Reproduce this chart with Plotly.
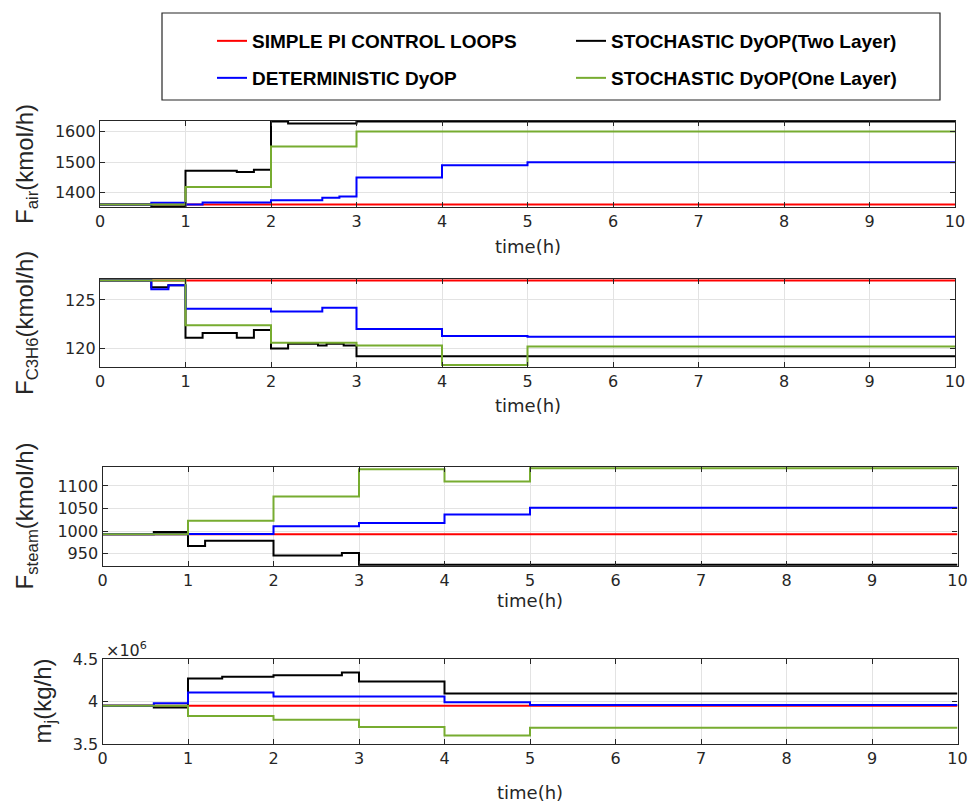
import plotly.graph_objects as go

W, H = 972, 803

series_names = ["SIMPLE PI CONTROL LOOPS", "STOCHASTIC DyOP(Two Layer)",
                "DETERMINISTIC DyOP", "STOCHASTIC DyOP(One Layer)"]
series_colors = ["#ff0000", "#000000", "#0000ff", "#77ac30"]
series_legend = ["legend", "legend", "legend2", "legend2"]

# ---- Panel 1: F_air (kmol/h)
air_pi_t = [0, 10]
air_pi_v = [1362, 1362]
air_two_t = [0, 0.6, 1, 1.6, 1.8, 2, 2.2, 3, 10]
air_two_v = [1362, 1356, 1472, 1468, 1475, 1632, 1626, 1632, 1632]
air_det_t = [0, 0.6, 1, 1.2, 2, 2.6, 2.8, 3, 4, 5, 10]
air_det_v = [1362, 1368, 1362, 1369, 1376, 1384, 1388, 1450, 1490, 1500, 1500]
air_one_t = [0, 1, 2, 3, 10]
air_one_v = [1362, 1419, 1551, 1600, 1600]

# ---- Panel 2: F_C3H6 (kmol/h)
c3_pi_t = [0, 10]
c3_pi_v = [127, 127]
c3_two_t = [0, 0.6, 0.8, 1, 1.2, 1.6, 1.8, 2, 2.2, 2.55, 2.65, 2.85, 3, 10]
c3_two_v = [127, 126.3, 126.5, 121.1, 121.6, 121.1, 121.9, 120.0, 120.5, 120.3, 120.5, 120.3, 119.2, 119.2]
c3_det_t = [0, 0.6, 0.8, 1, 2, 2.6, 3, 4, 5, 10]
c3_det_v = [127, 126.1, 126.5, 124.1, 123.8, 124.2, 122.0, 121.3, 121.2, 121.2]
c3_one_t = [0, 1, 2, 3, 4, 5, 10]
c3_one_v = [127, 122.4, 120.6, 120.3, 118.3, 120.2, 120.2]

# ---- Panel 3: F_steam (kmol/h)
st_pi_t = [0, 10]
st_pi_v = [993, 993]
st_two_t = [0, 0.6, 1, 1.2, 2, 2.8, 3, 10]
st_two_v = [993, 998, 967, 979, 946, 952, 926, 926]
st_det_t = [0, 1, 2, 3, 4, 5, 10]
st_det_v = [993, 994, 1011, 1018, 1037, 1052, 1052]
st_one_t = [0, 1, 2, 3, 4, 5, 10]
st_one_v = [993, 1023, 1077, 1137, 1110, 1139, 1139]

# ---- Panel 4: m_j (kg/h)
mj_pi_t = [0, 10]
mj_pi_v = [3.95e6, 3.95e6]
mj_two_t = [0, 0.6, 1, 1.4, 2, 2.8, 3, 4, 10]
mj_two_v = [3.95e6, 3.93e6, 4.27e6, 4.29e6, 4.31e6, 4.34e6, 4.235e6, 4.095e6, 4.095e6]
mj_det_t = [0, 0.6, 1, 2, 3, 4, 5, 10]
mj_det_v = [3.95e6, 3.98e6, 4.105e6, 4.06e6, 4.06e6, 3.99e6, 3.96e6, 3.96e6]
mj_one_t = [0, 1, 2, 3, 4, 5, 10]
mj_one_v = [3.95e6, 3.83e6, 3.785e6, 3.70e6, 3.60e6, 3.69e6, 3.69e6]

x_ticks = list(range(0, 11))
air_ticks = [1400, 1500, 1600]
c3_ticks = [120, 125]
st_ticks = [950, 1000, 1050, 1100]
mj_ticks = [3.5e6, 4.0e6, 4.5e6]
mj_tick_text = ["3.5", "4", "4.5"]

panels = [
    dict(data=[(air_pi_t, air_pi_v), (air_two_t, air_two_v), (air_det_t, air_det_v), (air_one_t, air_one_v)],
         yrange=[1354, 1634], ticks=air_ticks, ticktext=None,
         ypix=(121, 207), xpix=(100, 955),
         title="F<sub>air</sub>(kmol/h)", title_x=26, xlab_y=246),
    dict(data=[(c3_pi_t, c3_pi_v), (c3_two_t, c3_two_v), (c3_det_t, c3_det_v), (c3_one_t, c3_one_v)],
         yrange=[118.1, 127.15], ticks=c3_ticks, ticktext=None,
         ypix=(279, 367), xpix=(100, 955),
         title="F<sub>C3H6</sub>(kmol/h)", title_x=26, xlab_y=405),
    dict(data=[(st_pi_t, st_pi_v), (st_two_t, st_two_v), (st_det_t, st_det_v), (st_one_t, st_one_v)],
         yrange=[923, 1142], ticks=st_ticks, ticktext=None,
         ypix=(467, 566), xpix=(102.5, 957.5),
         title="F<sub>steam</sub>(kmol/h)", title_x=26, xlab_y=600),
    dict(data=[(mj_pi_t, mj_pi_v), (mj_two_t, mj_two_v), (mj_det_t, mj_det_v), (mj_one_t, mj_one_v)],
         yrange=[3.5e6, 4.5e6], ticks=mj_ticks, ticktext=mj_tick_text,
         ypix=(659, 744), xpix=(102.5, 957.5),
         title="m<sub>j</sub>(kg/h)", title_x=44, xlab_y=792),
]

fig = go.Figure()
tick_font = dict(family="DejaVu Sans", size=16, color="#262626")
axis_common = dict(showline=True, linecolor="#262626", linewidth=1.3, mirror="ticks",
                   ticks="inside", ticklen=5, tickcolor="#262626", tickwidth=1,
                   showgrid=True, gridcolor="#e3e3e3", gridwidth=1, zeroline=False,
                   tickfont=tick_font, automargin=False)

for i, p in enumerate(panels):
    n = i + 1
    xa = "x" if n == 1 else f"x{n}"
    ya = "y" if n == 1 else f"y{n}"
    for k, (t, v) in enumerate(p["data"]):
        fig.add_trace(go.Scatter(x=t, y=v, mode="lines", line=dict(color=series_colors[k], width=2, shape="hv"),
                                 name=series_names[k], legend=series_legend[k], showlegend=(i == 0),
                                 xaxis=xa, yaxis=ya, hoverinfo="skip"))
    y0, y1 = p["ypix"]
    x0, x1 = p["xpix"]
    xkey = "xaxis" if n == 1 else f"xaxis{n}"
    ykey = "yaxis" if n == 1 else f"yaxis{n}"
    fig.layout[xkey] = dict(domain=[x0 / W, x1 / W], range=[0, 10], tickvals=x_ticks,
                            anchor=ya, **axis_common)
    yax = dict(domain=[1 - y1 / H, 1 - y0 / H], range=p["yrange"], tickvals=p["ticks"],
               anchor=xa, **axis_common)
    if p["ticktext"]:
        yax["ticktext"] = p["ticktext"]
    fig.layout[ykey] = yax
    fig.add_annotation(text=p["title"], xref="paper", yref="paper", x=p["title_x"] / W,
                       y=1 - (y0 + y1) / 2 / H, textangle=-90, showarrow=False,
                       font=dict(family="Liberation Sans", size=24, color="#262626"),
                       xanchor="center", yanchor="middle")
    fig.add_annotation(text="time(h)", xref="paper", yref="paper", x=(x0 + x1) / 2 / W,
                       y=1 - p["xlab_y"] / H, showarrow=False,
                       font=dict(family="DejaVu Sans", size=18, color="#262626"),
                       xanchor="center", yanchor="middle")

fig.add_annotation(text="×10<sup>6</sup>", xref="paper", yref="paper", x=104 / W, y=1 - 649 / H,
                   showarrow=False, xanchor="left", yanchor="middle",
                   font=dict(family="DejaVu Sans", size=16, color="#262626"))

# legend frame
fig.add_shape(type="rect", xref="paper", yref="paper", x0=162 / W, x1=940 / W,
              y0=1 - 100 / H, y1=1 - 13 / H, line=dict(color="#262626", width=1.2),
              fillcolor="rgba(0,0,0,0)", layer="above")

legend_font = dict(family="Liberation Sans", size=19, color="#000000", weight="bold")
legend_common = dict(orientation="h", xanchor="left", yanchor="middle",
                     borderwidth=0, bgcolor="rgba(0,0,0,0)",
                     entrywidth=314, entrywidthmode="pixels", itemwidth=30,
                     font=legend_font, traceorder="normal")

fig.update_layout(
    width=W, height=H, margin=dict(l=0, r=0, t=0, b=0),
    paper_bgcolor="white", plot_bgcolor="white",
    legend=dict(x=212 / W, y=1 - 41 / H, **legend_common),
    legend2=dict(x=212 / W, y=1 - 78 / H, **legend_common),
)

fig.write_html("out.html")
